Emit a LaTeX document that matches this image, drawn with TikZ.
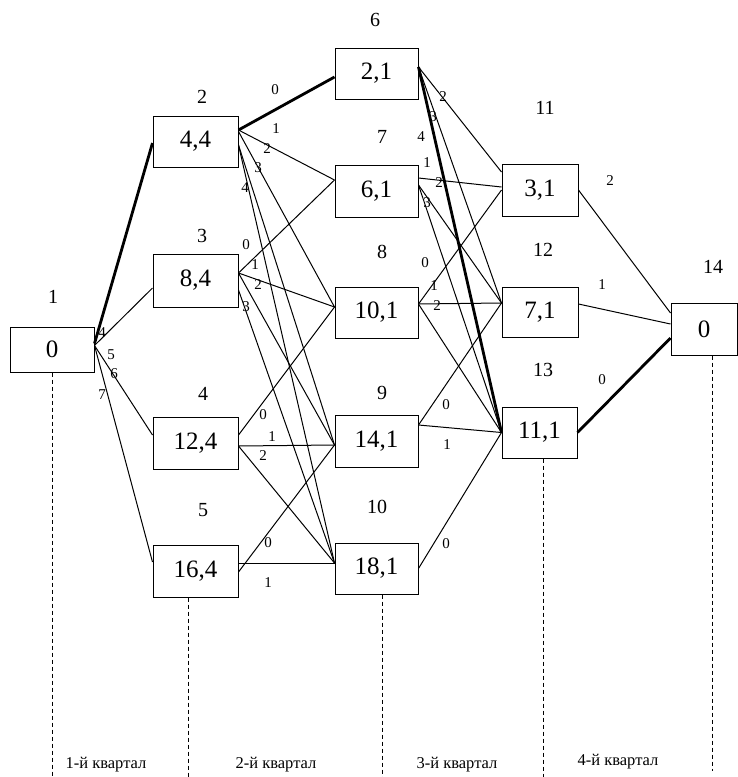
\documentclass[tikz,border=0pt]{standalone}
\usepackage{fontspec}
\setmainfont{Liberation Serif}
\begin{document}
\begin{tikzpicture}[x=1pt,y=-1pt,
  box/.style={draw,line width=1pt,inner sep=0pt,font=\fontsize{25}{30}\selectfont},
  nlab/.style={font=\fontsize{20}{24}\selectfont,inner sep=0pt},
  elab/.style={font=\fontsize{15}{17}\selectfont,inner sep=0pt},
  qlab/.style={font=\fontsize{16.5}{19}\selectfont,inner sep=0pt},
  edge/.style={line width=1pt},
  best/.style={line width=2.8pt},
  guide/.style={line width=1pt,dash pattern=on 4pt off 3pt}]
\useasboundingbox (0,0) rectangle (738,777);

% boxes
\node[box,minimum width=84pt,minimum height=45pt] (b1) at (52,349.5) {0};
\node[box,minimum width=85pt,minimum height=51pt] (b2) at (195.5,141.5) {4,4};
\node[box,minimum width=85pt,minimum height=53pt] (b3) at (195.5,280.5) {8,4};
\node[box,minimum width=85pt,minimum height=52pt] (b4) at (195.5,443) {12,4};
\node[box,minimum width=85pt,minimum height=52pt] (b5) at (195.5,571) {16,4};
\node[box,minimum width=83pt,minimum height=51pt] (b6) at (376.5,73.5) {2,1};
\node[box,minimum width=83pt,minimum height=52pt] (b7) at (376.5,191) {6,1};
\node[box,minimum width=83pt,minimum height=51pt] (b8) at (376.5,312.5) {10,1};
\node[box,minimum width=83pt,minimum height=52pt] (b9) at (376.5,441) {14,1};
\node[box,minimum width=83pt,minimum height=51pt] (b10) at (376.5,568.5) {18,1};
\node[box,minimum width=76pt,minimum height=52pt] (b11) at (540,190) {3,1};
\node[box,minimum width=76pt,minimum height=50pt] (b12) at (540,312) {7,1};
\node[box,minimum width=75pt,minimum height=51pt] (b13) at (539.5,432.5) {11,1};
\node[box,minimum width=66pt,minimum height=52pt] (b14) at (704,329) {0};

% node numbers
\node[nlab] (n1) at (53,297) {1};
\node[nlab] (n2) at (202,97) {2};
\node[nlab] (n3) at (202,236) {3};
\node[nlab] (n4) at (203,394) {4};
\node[nlab] (n5) at (203,510) {5};
\node[nlab] (n6) at (375,20) {6};
\node[nlab] (n7) at (382,137) {7};
\node[nlab] (n8) at (382,252) {8};
\node[nlab] (n9) at (382,393) {9};
\node[nlab] (n10) at (377,507) {10};
\node[nlab] (n11) at (545,108) {11};
\node[nlab] (n12) at (543,250) {12};
\node[nlab] (n13) at (543,370) {13};
\node[nlab] (n14) at (713,267) {14};

% stage 1 -> 2
\draw[edge] ([yshift=4pt]b1.east) -- ([yshift=-7.5pt]b3.west);
\draw[edge] ([yshift=4pt]b1.east) -- ([yshift=8pt]b4.west);
\draw[edge] ([yshift=4pt]b1.east) -- ([yshift=9pt]b5.west);
\draw[best] ([yshift=6pt]b1.east) -- ([yshift=-1.5pt]b2.west);

% stage 2 -> 3
\draw[edge] ([yshift=11.5pt]b2.east) -- ([yshift=11pt]b7.west);
\draw[edge] ([yshift=10pt]b2.east) -- ([yshift=5.5pt]b8.west);
\draw[edge] ([yshift=-3.5pt]b2.east) -- ([yshift=-4pt]b9.west);
\draw[edge] ([yshift=-3.5pt]b2.east) -- ([yshift=5.5pt]b10.west);
\draw[best] ([yshift=11.5pt]b2.east) -- ([yshift=-3.5pt]b6.west);

\draw[edge] ([yshift=7.5pt]b3.east) -- ([yshift=11pt]b7.west);
\draw[edge] ([yshift=7.5pt]b3.east) -- ([yshift=5.5pt]b8.west);
\draw[edge] ([yshift=7.5pt]b3.east) -- ([yshift=-4pt]b9.west);
\draw[edge] ([yshift=-9.5pt]b3.east) -- ([yshift=5.5pt]b10.west);

\draw[edge] ([yshift=8pt]b4.east) -- ([yshift=5.5pt]b8.west);
\draw[edge] ([yshift=-3pt]b4.east) -- ([yshift=-4pt]b9.west);
\draw[edge] ([yshift=-3pt]b4.east) -- ([yshift=5.5pt]b10.west);

\draw[edge] ([yshift=-1pt]b5.east) -- ([yshift=-4pt]b9.west);
\draw[edge] ([yshift=8pt]b5.east) -- ([yshift=5.5pt]b10.west);

% stage 3 -> 4
\draw[edge] ([yshift=6.5pt]b6.east) -- ([yshift=18pt]b11.west);
\draw[edge] ([yshift=6.5pt]b6.east) -- ([yshift=9pt]b12.west);

\draw[edge] ([yshift=13pt]b7.east) -- ([yshift=3pt]b11.west);
\draw[edge] ([yshift=6pt]b7.east) -- ([yshift=9pt]b12.west);
\draw[edge] ([yshift=6pt]b7.east) -- (b13.west);

\draw[edge] ([yshift=8.5pt]b8.east) -- ([yshift=0pt]b11.west);
\draw[edge] ([yshift=8.5pt]b8.east) -- ([yshift=9pt]b12.west);
\draw[edge] ([yshift=8.5pt]b8.east) -- (b13.west);

\draw[edge] ([yshift=16pt]b9.east) -- ([yshift=9pt]b12.west);
\draw[edge] ([yshift=16pt]b9.east) -- (b13.west);

\draw[edge] (b10.east) -- (b13.west);

\draw[best] ([yshift=6.5pt]b6.east) -- (b13.west);

% stage 4 -> 5
\draw[edge] (b11.east) -- ([yshift=16pt]b14.west);
\draw[edge] ([yshift=8pt]b12.east) -- ([yshift=5pt]b14.west);
\draw[best] (b13.east) -- ([yshift=-9pt]b14.west);

% edge labels
\node[elab] (e1a) at (102,333) {4};
\node[elab] (e1b) at (111,355) {5};
\node[elab] (e1c) at (114,374) {6};
\node[elab] (e1d) at (102,395) {7};

\node[elab] (e2a) at (275,90) {0};
\node[elab] (e2b) at (276,129) {1};
\node[elab] (e2c) at (267,149) {2};
\node[elab] (e2d) at (258,168) {3};
\node[elab] (e2e) at (245,188) {4};

\node[elab] (e3a) at (246,245) {0};
\node[elab] (e3b) at (255,265) {1};
\node[elab] (e3c) at (258,285) {2};
\node[elab] (e3d) at (246,307) {3};

\node[elab] (e4a) at (263,415) {0};
\node[elab] (e4b) at (272,437) {1};
\node[elab] (e4c) at (263,456) {2};

\node[elab] (e5a) at (268,543) {0};
\node[elab] (e5b) at (268,583) {1};

\node[elab] (e6a) at (443,97) {2};
\node[elab] (e6b) at (433,117) {3};
\node[elab] (e6c) at (421,137) {4};

\node[elab] (e7a) at (427,163) {1};
\node[elab] (e7b) at (439,183) {2};
\node[elab] (e7c) at (427,203) {3};

\node[elab] (e8a) at (425,263) {0};
\node[elab] (e8b) at (434,286) {1};
\node[elab] (e8c) at (437,306) {2};

\node[elab] (e9a) at (446,405) {0};
\node[elab] (e9b) at (447,445) {1};

\node[elab] (e10a) at (446,544) {0};

\node[elab] (e11a) at (610,181) {2};
\node[elab] (e12a) at (602,285) {1};
\node[elab] (e13a) at (602,380) {0};

% dashed guides
\coordinate (g1) at (52,777);
\coordinate (g2) at (188,777);
\coordinate (g3) at (382,777);
\coordinate (g4) at (543,777);
\coordinate (g5) at (712,771);
\draw[guide] (b1.south) -- (g1);
\draw[guide] ([xshift=-7.5pt]b5.south) -- (g2);
\draw[guide] ([xshift=5.5pt]b10.south) -- (g3);
\draw[guide] ([xshift=3.5pt]b13.south) -- (g4);
\draw[guide] ([xshift=8pt]b14.south) -- (g5);

% quarter labels
\node[qlab] (q1) at (106,765) {1-й квартал};
\node[qlab] (q2) at (276,765) {2-й квартал};
\node[qlab] (q3) at (457,765) {3-й квартал};
\node[qlab] (q4) at (618,762) {4-й квартал};
\end{tikzpicture}
\end{document}
